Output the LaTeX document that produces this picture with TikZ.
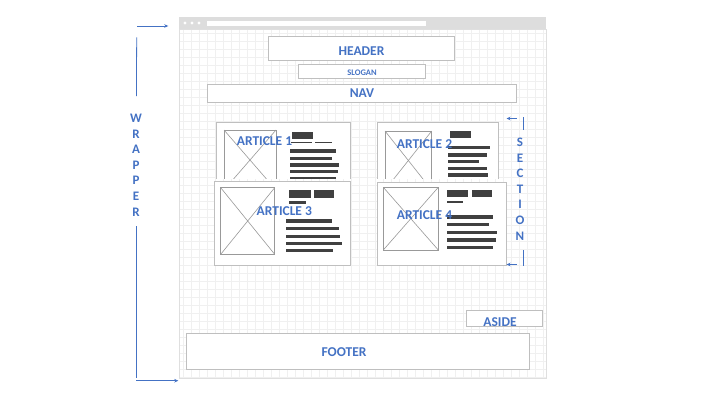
\documentclass[tikz,border=0pt]{standalone}
\usepackage{fontspec}
\setmainfont{Carlito}
\usetikzlibrary{arrows.meta}
\definecolor{txtblue}{HTML}{4472C4}
\definecolor{boxgray}{HTML}{BFBFBF}
\definecolor{bardark}{HTML}{404040}
\definecolor{gridc}{HTML}{F0F0F0}
\definecolor{topbar}{HTML}{DDDDDD}
\tikzset{
  box/.style={draw=boxgray, line width=0.9pt, fill=white, inner sep=0pt},
  lbl/.style={text=txtblue, font=\fontsize{13.5}{14}\selectfont\bfseries, inner sep=0pt},
  smalllbl/.style={text=txtblue, font=\fontsize{8.5}{9}\selectfont\bfseries, inner sep=0pt},
  vlbl/.style={text=txtblue, font=\fontsize{13}{14}\selectfont\bfseries, inner sep=0pt},
  bar/.style={fill=bardark},
  imgph/.style={draw=boxgray!80!black, line width=0.6pt},
  gridline/.style={draw=gridc, line width=0.4pt},
  blueline/.style={draw=txtblue, line width=0.8pt},
  bluearrow/.style={draw=txtblue, line width=0.8pt, -{Stealth[length=4pt,width=3.5pt]}}
}
\begin{document}
\begin{tikzpicture}[x=1pt,y=-1pt]
\useasboundingbox (0,0) rectangle (720,405);
\fill[white] (0,0) rectangle (720,405);
% browser background grid
\fill[white] (179,29) rectangle (546,378);
\foreach \x in {183,191,...,545} \draw[gridline] (\x,29) -- (\x,378);
\foreach \y in {33,41,...,377} \draw[gridline] (179,\y) -- (546,\y);
\draw[gridc!85!gray, line width=0.4pt] (179,29) rectangle (546,378);
% top bar
\fill[topbar] (179,17) rectangle (546,29);
\foreach \x in {185,192,199} \fill[white] (\x,23) circle (1.6);
\fill[white] (207,20.5) rectangle (425.5,26);

% header / slogan / nav
\node[box, minimum width=186pt, minimum height=24.4pt] (header) at (361.5,48.5) {};
\node[lbl] (headerlbl) at (361.5,51.5) {HEADER};
\node[box, minimum width=127.4pt, minimum height=14pt] (slogan) at (362,71.3) {};
\node[smalllbl] (sloganlbl) at (362,72.6) {SLOGAN};
\node[box, minimum width=309.4pt, minimum height=18pt] (nav) at (362,93.3) {};
\node[lbl] (navlbl) at (362,93) {NAV};

% article 1 (clipped)
\begin{scope}
\clip (200,110) rectangle (360,178.3);
\node[box, minimum width=134pt, minimum height=70pt] (art1) at (283.7,157.3) {};
\draw[imgph] (224,130) rectangle (276,190);
\draw[imgph] (224,130) -- (276,190) (276,130) -- (224,190);
\fill[bar] (292,132) rectangle (312.7,139);
\fill[bar] (290.7,141.8) rectangle (311.7,143.4);
\fill[bar] (315,141.8) rectangle (331.7,143.4);
\fill[bar] (290,149.3) rectangle (336,152.7);
\fill[bar] (290,156.6) rectangle (331.7,160);
\fill[bar] (290,163.3) rectangle (339.3,166.7);
\fill[bar] (290,170) rectangle (338.3,173.4);
\fill[bar] (290,176.5) rectangle (336,180);
\end{scope}
\node[lbl] (art1lbl) at (264.5,140.7) {ARTICLE 1};

% article 2 (clipped)
\begin{scope}
\clip (370,110) rectangle (510,178.3);
\node[box, minimum width=121pt, minimum height=70pt] (art2) at (437.8,157.3) {};
\draw[imgph] (385,131) rectangle (431.7,190);
\draw[imgph] (385,131) -- (431.7,190) (431.7,131) -- (385,190);
\fill[bar] (450,131) rectangle (470.7,138.3);
\fill[bar] (448.3,146) rectangle (490,149.4);
\fill[bar] (448.3,153.3) rectangle (487.3,156.7);
\fill[bar] (448.3,160) rectangle (479,163.4);
\fill[bar] (448.3,166.6) rectangle (486.7,170);
\fill[bar] (448.3,173.3) rectangle (488.3,176.7);
\end{scope}
\node[lbl] (art2lbl) at (424.5,144) {ARTICLE 2};

% article 3
\node[box, minimum width=136.7pt, minimum height=83.3pt] (art3) at (282.3,223.3) {};
\draw[imgph] (220.7,187.7) rectangle (274.7,254.3);
\draw[imgph] (220.7,187.7) -- (274.7,254.3) (274.7,187.7) -- (220.7,254.3);
\fill[bar] (289.3,190) rectangle (310.7,197.7);
\fill[bar] (314,190) rectangle (334.3,197.7);
\fill[bar] (289.3,201) rectangle (306,203.8);
\fill[bar] (286,219.3) rectangle (332.3,222.7);
\fill[bar] (286,227) rectangle (338.7,230.4);
\fill[bar] (286,234.6) rectangle (340,238);
\fill[bar] (286,242) rectangle (342.3,245.4);
\fill[bar] (286,249) rectangle (333.3,252.4);
\node[lbl] (art3lbl) at (284.3,210.7) {ARTICLE 3};

% article 4
\node[box, minimum width=128.7pt, minimum height=82.7pt] (art4) at (441.7,223.7) {};
\draw[imgph] (383.3,187.3) rectangle (438.3,250);
\draw[imgph] (383.3,187.3) -- (438.3,250) (438.3,187.3) -- (383.3,250);
\fill[bar] (446.7,189.7) rectangle (467.7,197.3);
\fill[bar] (471.7,189.7) rectangle (491.7,197.3);
\fill[bar] (446.7,200.5) rectangle (463.3,203);
\fill[bar] (447.3,215.3) rectangle (493.3,218.7);
\fill[bar] (447.3,223) rectangle (489.3,226.4);
\fill[bar] (447.3,230.6) rectangle (496.7,234);
\fill[bar] (447.3,238.3) rectangle (495.7,241.7);
\fill[bar] (447.3,245.6) rectangle (493.3,249);
\node[lbl] (art4lbl) at (424.5,215) {ARTICLE 4};

% aside / footer
\node[box, minimum width=75.6pt, minimum height=16pt] (aside) at (504.5,318.7) {};
\node[lbl] (asidelbl) at (500,321.7) {ASIDE};
\node[box, minimum width=343.3pt, minimum height=36pt] (footer) at (357.7,351.3) {};
\node[lbl] (footerlbl) at (344,352.3) {FOOTER};

% WRAPPER
\node[vlbl, align=center] (wrapper) at (136,165) {W\\[1.6pt]R\\[1.6pt]A\\[1.6pt]P\\[1.6pt]P\\[1.6pt]E\\[1.6pt]R};
\coordinate (wtopa) at (137.3,26);
\coordinate (wtopb) at (168.3,26);
\coordinate (wl1a) at (136.7,37.3);
\coordinate (wl1b) at (136.4,96);
\coordinate (wl2a) at (136,226);
\coordinate (wl2b) at (136,378.3);
\coordinate (wbota) at (136,380.7);
\coordinate (wbotb) at (178.3,380.7);
\draw[bluearrow] (wtopa) -- (wtopb);
\draw[blueline] (wl1a) -- (wl1b);
\draw[blueline] (wl2a) -- (wl2b);
\draw[bluearrow] (wbota) -- (wbotb);

% SECTION
\node[vlbl, align=center] (section) at (520,189) {S\\[1.6pt]E\\[1.6pt]C\\[1.6pt]T\\[1.6pt]I\\[1.6pt]O\\[1.6pt]N};
\coordinate (stopa) at (516.7,118.5);
\coordinate (stopb) at (506.5,118.5);
\coordinate (sl1a) at (523,117);
\coordinate (sl1b) at (523,129.5);
\coordinate (sl2a) at (523,250);
\coordinate (sl2b) at (523,265.5);
\coordinate (sbota) at (516.7,264.5);
\coordinate (sbotb) at (506.5,264.5);
\draw[bluearrow] (stopa) -- (stopb);
\draw[blueline] (sl1a) -- (sl1b);
\draw[blueline] (sl2a) -- (sl2b);
\draw[bluearrow] (sbota) -- (sbotb);
\end{tikzpicture}
\end{document}
